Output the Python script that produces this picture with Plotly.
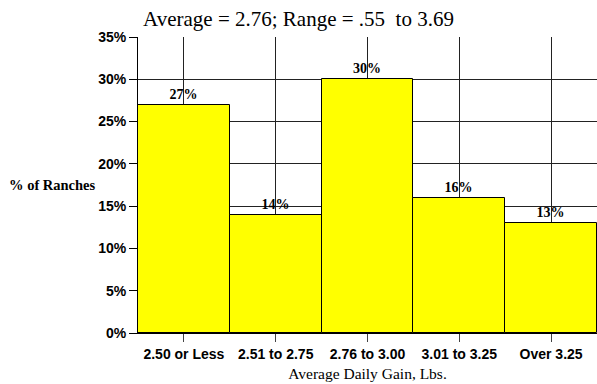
import plotly.graph_objects as go

# Average daily gain distribution across ranches
categories = ["2.50 or Less", "2.51 to 2.75", "2.76 to 3.00", "3.01 to 3.25", "Over 3.25"]
pct_ranches = [27, 14, 30, 16, 13]
y_ticks = [0, 5, 10, 15, 20, 25, 30, 35]

serif = "Liberation Serif, Times New Roman, serif"
sans = "Liberation Sans, Arial, sans-serif"

fig = go.Figure(
    go.Bar(
        x=categories,
        y=pct_ranches,
        marker=dict(color="#ffff00", line=dict(color="black", width=1)),
        text=[f"{v}%" for v in pct_ranches],
        textposition="outside",
        constraintext="none",
        textfont=dict(family=serif, size=14, color="black", weight="bold"),
        cliponaxis=False,
        width=1,
    )
)

fig.update_layout(
    width=597,
    height=384,
    margin=dict(l=138, r=0, t=37, b=51),
    paper_bgcolor="white",
    plot_bgcolor="white",
    bargap=0,
    showlegend=False,
    title=dict(
        text="Average = 2.76; Range = .55\u00a0\u00a0to 3.69",
        x=0.5,
        xanchor="center",
        y=0.952,
        yanchor="middle",
        font=dict(family=serif, size=21, color="black"),
    ),
    xaxis=dict(
        showgrid=True,
        gridcolor="#222",
        gridwidth=1,
        showline=True,
        linecolor="black",
        linewidth=1,
        ticks="outside",
        ticklen=8,
        tickcolor="#444",
        tickfont=dict(family=sans, size=14, color="black", weight="bold"),
        title=dict(
            text="Average Daily Gain, Lbs.",
            font=dict(family=serif, size=15.5, color="black"),
            standoff=7,
        ),
    ),
    yaxis=dict(
        range=[0, 35],
        tickvals=y_ticks,
        ticktext=[f"{v}%" for v in y_ticks],
        showgrid=True,
        gridcolor="#222",
        gridwidth=1,
        zeroline=False,
        showline=True,
        linecolor="black",
        linewidth=1,
        ticks="outside",
        ticklen=8,
        tickcolor="black",
        tickfont=dict(family=sans, size=14, color="black", weight="bold"),
    ),
    annotations=[
        dict(
            text="% of Ranches",
            xref="paper",
            yref="paper",
            x=-0.285,
            y=0.5,
            xanchor="left",
            yanchor="middle",
            showarrow=False,
            font=dict(family=serif, size=14.5, color="black", weight="bold"),
        )
    ],
)

fig.write_html("out.html")
